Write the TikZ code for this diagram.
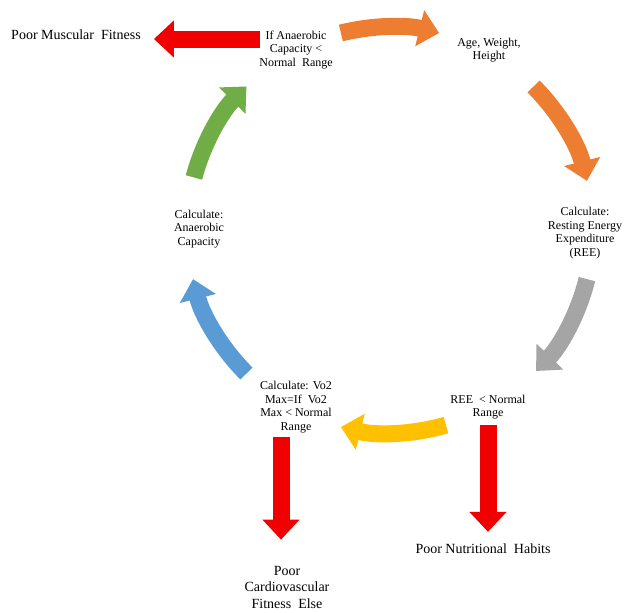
\documentclass[tikz,border=0pt]{standalone}
\usepackage{fontspec}
\setmainfont{Liberation Serif}
\usetikzlibrary{arrows.meta}
\definecolor{cOrange}{RGB}{237,125,49}
\definecolor{cGray}{RGB}{165,165,165}
\definecolor{cYellow}{RGB}{255,192,0}
\definecolor{cBlue}{RGB}{91,155,213}
\definecolor{cGreen}{RGB}{112,173,71}
\definecolor{cRed}{RGB}{240,0,0}
\begin{document}
\begin{tikzpicture}[
    x=1pt, y=1pt,
    lbl/.style={font=\fontsize{12}{13.5}\selectfont, align=center, inner sep=3pt},
    big/.style={font=\fontsize{14}{16.5}\selectfont, align=center, inner sep=3pt},
    cyc/.style={line width=17pt, -{Triangle[length=20pt, width=36pt]}},
    redarr/.style={cyc, cRed},
]
\useasboundingbox (0,0) rectangle (625,-613);
\coordinate (O) at (390,-230);

% Steps
\node[lbl] (ifan) at (296,-50) {If Anaerobic\\Capacity <\\Normal~ Range};
\node[lbl] (age) at (489,-50) {Age, Weight,\\Height};
\node[lbl] (ree) at (585,-233) {Calculate:\\Resting Energy\\Expenditure\\(REE)};
\node[lbl] (reelow) at (488,-407) {REE~ < Normal\\Range};
\node[lbl] (vo2) at (296,-407) {Calculate: Vo2\\Max=If~ Vo2\\Max < Normal\\Range};
\node[lbl] (anacap) at (199,-229) {Calculate:\\Anaerobic\\Capacity};

% Outcomes
\node[big] (muscle) at (76,-35) {Poor Muscular~ Fitness};
\node[big] (nutri) at (483,-549) {Poor Nutritional~ Habits};
\node[big] (cardio) at (287,-587) {Poor\\Cardiovascular\\Fitness~ Else};

% Cycle arrows
\draw[cyc, cOrange] ([shift={(104:203)}]O) arc[start angle=104, end angle=76, radius=203];
\draw[cyc, cOrange] ([shift={(45:203)}]O) arc[start angle=45, end angle=14, radius=203];
\draw[cyc, cGray] ([shift={(-14:203)}]O) arc[start angle=-14, end angle=-44, radius=203];
\draw[cyc, cYellow] ([shift={(-74:203)}]O) arc[start angle=-74, end angle=-104, radius=203];
\draw[cyc, cBlue] ([shift={(-135:203)}]O) arc[start angle=-135, end angle=-166, radius=203];
\draw[cyc, cGreen] ([shift={(165:203)}]O) arc[start angle=165, end angle=135, radius=203];

% Outcome arrows
\draw[redarr, shorten <=-4pt, shorten >=10pt] ([yshift=11pt]ifan.west) -- ([yshift=-4pt]muscle.east);
\draw[redarr, shorten <=3pt, shorten >=9pt] (reelow.south) -- (reelow.south |- nutri.north);
\draw[redarr, shorten <=1pt, shorten >=23pt] ([xshift=-15pt]vo2.south) -- ([xshift=-15pt]vo2.south |- cardio.north);
\end{tikzpicture}
\end{document}
